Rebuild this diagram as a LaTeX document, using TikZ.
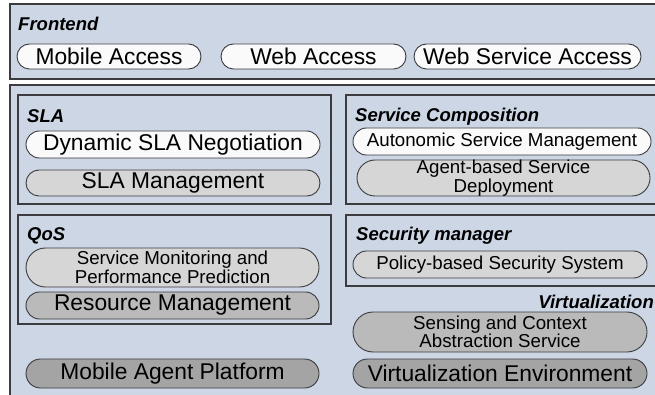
\documentclass[tikz,border=0pt]{standalone}
\usepackage{fontspec}
\setmainfont{Liberation Sans}
\usepackage{tikz}
\usetikzlibrary{shapes.misc,positioning}
\definecolor{archbg}{RGB}{205,214,228}
\definecolor{archline}{RGB}{60,60,64}
\definecolor{pillwhite}{RGB}{250,250,250}
\definecolor{pilllight}{RGB}{214,214,214}
\definecolor{pillmid}{RGB}{186,186,186}
\definecolor{pilldark}{RGB}{164,164,164}
\newcommand{\bigtxt}{\fontsize{22.8}{24}\selectfont}
\newcommand{\smalltxt}{\fontsize{18.7}{16.5}\selectfont}

\begin{document}
\begin{tikzpicture}[x=1pt, y=-1pt,
    layer/.style={draw=archline, fill=archbg, line width=1.1pt},
    pill/.style={rounded rectangle, draw=archline, line width=0.9pt,
        inner sep=0pt, align=center},
    bigpill/.style={pill, font=\bigtxt},
    smallpill/.style={pill, font=\smalltxt},
    layertitle/.style={font=\fontsize{18.5}{20}\selectfont\bfseries\itshape, inner sep=0pt}]
        \useasboundingbox (0,0) rectangle (655,395);
        \clip (0,0) rectangle (655,395);

        % Layers
        \draw[layer] (10,4) rectangle (700,79);
        \draw[layer] (10,85) rectangle (700,450);
        \draw[layer] (18,95) rectangle (331,204);
        \draw[layer] (346,95) rectangle (700,204);
        \draw[layer] (18,215) rectangle (331,324);
        \draw[layer] (346,215) rectangle (700,286);

        % Frontend
        \node[layertitle, anchor=west] (frontend) at (18,24) {Frontend};
        \node[bigpill, fill=pillwhite, minimum width=184pt, minimum height=25pt] (mobile) at (109,56.5) {Mobile Access};
        \node[bigpill, fill=pillwhite, minimum width=185pt, minimum height=25pt] (web) at (313.5,56.5) {Web Access};
        \node[bigpill, fill=pillwhite, minimum width=227pt, minimum height=25pt] (wsa) at (527.5,56.5) {Web Service Access};

        % SLA
        \node[layertitle, anchor=west] (sla) at (27,116) {SLA};
        \node[bigpill, fill=pillwhite, minimum width=294pt, minimum height=27pt] (dynsla) at (173,144.5) {Dynamic SLA Negotiation};
        \node[bigpill, fill=pilllight, minimum width=294pt, minimum height=26pt] (slamgmt) at (173,183) {SLA Management};

        % Service composition
        \node[layertitle, anchor=west] (comp) at (355,117) {Service Composition};
        \node[smallpill, fill=pillwhite, minimum width=298pt, minimum height=27pt] (autonomic) at (502,141.5) {Autonomic Service Management};
        \node[smallpill, fill=pilllight, minimum width=293pt, minimum height=36pt] (deploy) at (503.5,178) {Agent-based Service\\Deployment};

        % QoS
        \node[layertitle, anchor=west] (qos) at (27,236) {QoS};
        \node[smallpill, fill=pilllight, minimum width=293pt, minimum height=39pt] (monitor) at (172.5,267.5) {Service Monitoring and\\Performance Prediction};
        \node[bigpill, fill=pillmid, minimum width=293pt, minimum height=27pt] (resource) at (172.5,305.5) {Resource Management};

        % Security manager
        \node[layertitle, anchor=west] (security) at (356,236) {Security manager};
        \node[smallpill, fill=pilllight, minimum width=294pt, minimum height=27pt] (policy) at (500,264.5) {Policy-based Security System};

        % Virtualization
        \node[layertitle, anchor=east] (virt) at (654,302) {Virtualization};
        \node[smallpill, fill=pillmid, minimum width=294pt, minimum height=40pt] (sensing) at (500,332) {Sensing and Context\\Abstraction Service};
        \node[bigpill, fill=pilldark, minimum width=294pt, minimum height=29pt] (venv) at (500,373.5) {Virtualization Environment};

        % Platform
        \node[bigpill, fill=pilldark, minimum width=293pt, minimum height=29pt] (platform) at (172.5,373.5) {Mobile Agent Platform};
    \end{tikzpicture}
\end{document}
